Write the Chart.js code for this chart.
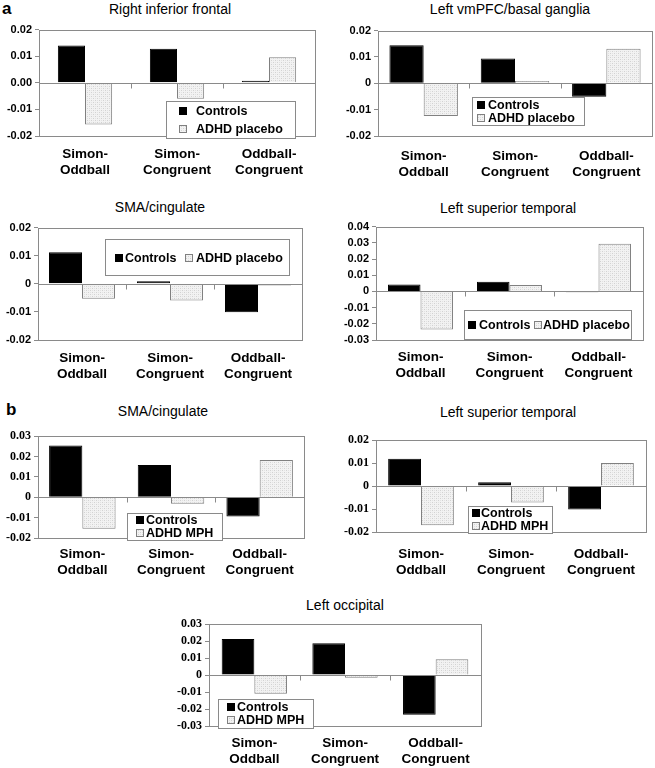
<!DOCTYPE html>
<html>
<head>
<meta charset="utf-8">
<script src="https://cdn.jsdelivr.net/npm/chart.js@4.4.0/dist/chart.umd.min.js"></script>
<style>
body { margin: 0; width: 655px; height: 768px; position: relative; overflow: hidden; background: #fff; font-family: "Liberation Sans", Arial, sans-serif; }
canvas { position: absolute; }
.ttl { position: absolute; font-size: 14px; transform: translate(-50%, -50%); white-space: nowrap; color: #000; }
.tag { position: absolute; font-size: 17px; font-weight: bold; transform: translate(0, -50%); }
</style>
</head>
<body>
<div class="tag" style="left:2px;top:9px">a</div>
<div class="tag" style="left:6px;top:410px">b</div>
<script>
// categories shared by every panel
var categories = [['Simon-', 'Oddball'], ['Simon-', 'Congruent'], ['Oddball-', 'Congruent']];

// a: Controls vs ADHD placebo
var rifControls = [0.0140, 0.0128, 0.0008];
var rifPlacebo = [-0.0157, -0.0060, 0.0096];
var vmpfcControls = [0.0144, 0.0094, -0.0051];
var vmpfcPlacebo = [-0.0124, 0.0009, 0.0131];
var smaControls = [0.0112, 0.0009, -0.0101];
var smaPlacebo = [-0.0053, -0.0059, -0.0006];
var lstControls = [0.0043, 0.0059, -0.0006];
var lstPlacebo = [-0.0235, 0.0039, 0.0294];

// b: Controls vs ADHD MPH
var smaMphControls = [0.0254, 0.0159, -0.0095];
var smaMph = [-0.0154, -0.0032, 0.0183];
var lstMphControls = [0.0119, 0.0017, -0.0102];
var lstMph = [-0.0171, -0.0071, 0.0101];
var occControls = [0.0213, 0.0188, -0.0233];
var occMph = [-0.0110, -0.0015, 0.0094];

// y ticks
var ticks2 = [-0.02, -0.01, 0, 0.01, 0.02];
var ticks2Labels = ['-0.02', '-0.01', '0', '0.01', '0.02'];
var ticks2LabelsDec = ['-0.02', '-0.01', '0.00', '0.01', '0.02'];
var ticks34 = [-0.03, -0.02, -0.01, 0, 0.01, 0.02, 0.03, 0.04];
var ticks34Labels = ['-0.03', '-0.02', '-0.01', '0', '0.01', '0.02', '0.03', '0.04'];
var ticks23 = [-0.02, -0.01, 0, 0.01, 0.02, 0.03];
var ticks23Labels = ['-0.02', '-0.01', '0', '0.01', '0.02', '0.03'];
var ticks33 = [-0.03, -0.02, -0.01, 0, 0.01, 0.02, 0.03];
var ticks33Labels = ['-0.03', '-0.02', '-0.01', '0', '0.01', '0.02', '0.03'];

var panels = [
  { title: 'Right inferior frontal', tx: 170, ty: 9, plot: [39, 28, 315, 136], a: rifControls, b: rifPlacebo, bName: 'ADHD placebo',
    ticks: ticks2, labels: ticks2LabelsDec, serif: false, cat: 0.59, lpad: 10,
    legend: { box: [127, 71, 129, 37], items: [[13, 30, 10], [13, 30, 28]] } },
  { title: 'Left vmPFC/basal ganglia', tx: 510, ty: 9, plot: [378, 29, 652, 136], a: vmpfcControls, b: vmpfcPlacebo, bName: 'ADHD placebo',
    ticks: ticks2, labels: ticks2Labels, serif: false, cat: 0.75, lpad: 12,
    legend: { box: [94, 66, 112, 28], items: [[5, 16, 8], [5, 16, 21]] } },
  { title: 'SMA/cingulate', tx: 160, ty: 207, plot: [38, 226, 302, 340], a: smaControls, b: smaPlacebo, bName: 'ADHD placebo',
    ticks: ticks2, labels: ticks2Labels, serif: false, cat: 0.75, lpad: 10,
    legend: { box: [67, 11, 184, 36], items: [[10, 20, 19], [80, 91, 19]] } },
  { title: 'Left superior temporal', tx: 508, ty: 208, plot: [376, 225, 643, 340], a: lstControls, b: lstPlacebo, bName: 'ADHD placebo',
    ticks: ticks34, labels: ticks34Labels, serif: false, cat: 0.73, lpad: 9,
    legend: { box: [88, 83, 167, 29], items: [[4, 15, 15], [70, 79, 15]] } },
  { title: 'SMA/cingulate', tx: 163, ty: 411, plot: [38, 434, 304, 538], a: smaMphControls, b: smaMph, bName: 'ADHD MPH',
    ticks: ticks23, labels: ticks23Labels, serif: true, cat: 0.75, lpad: 8,
    legend: { box: [89, 77, 95, 27], items: [[9, 19, 7], [9, 19, 20]] } },
  { title: 'Left superior temporal', tx: 508, ty: 412, plot: [376, 438, 646, 532], a: lstMphControls, b: lstMph, bName: 'ADHD MPH',
    ticks: ticks2, labels: ticks2Labels, serif: true, cat: 0.73, lpad: 14,
    legend: { box: [92, 66, 84, 27], items: [[4, 13, 7], [4, 13, 20]] } },
  { title: 'Left occipital', tx: 345, ty: 605, plot: [209, 622, 481, 726], a: occControls, b: occMph, bName: 'ADHD MPH',
    ticks: ticks33, labels: ticks33Labels, serif: true, cat: 0.72, lpad: 9,
    legend: { box: [9, 75, 95, 29], items: [[9, 19, 8], [9, 19, 21]] } }
];

var SANS = '"Liberation Sans", Arial, sans-serif';
var SERIF = '"Liberation Serif", "Times New Roman", serif';
var AXIS_W = 40, AXIS_H = 52, PAD_T = 8, PAD_R = 6;

// light dotted fill like the original's ADHD bars
function dotPattern(ctx) {
  var c = document.createElement('canvas');
  c.width = 4; c.height = 4;
  var g = c.getContext('2d');
  g.fillStyle = '#f2f2f2'; g.fillRect(0, 0, 4, 4);
  g.fillStyle = '#d2d2d2'; g.fillRect(0, 0, 1, 1); g.fillRect(2, 2, 1, 1);
  g.fillStyle = '#e2e2e2'; g.fillRect(2, 0, 1, 1); g.fillRect(0, 2, 1, 1);
  return ctx.createPattern(c, 'repeat');
}

// frame round the plot, zero line and the little category ticks on it
var framePlugin = {
  id: 'frame',
  afterDatasetsDraw: function(chart) {
    var ctx = chart.ctx, a = chart.chartArea;
    var y0 = Math.round(chart.scales.y.getPixelForValue(0)) + 0.5;
    var xs = chart.scales.x;
    ctx.save();
    ctx.strokeStyle = '#8a8a8a';
    ctx.lineWidth = 1;
    ctx.strokeRect(Math.round(a.left) + 0.5, Math.round(a.top) + 0.5, Math.round(a.width), Math.round(a.height));
    ctx.beginPath();
    ctx.moveTo(a.left, y0); ctx.lineTo(a.right, y0);
    for (var i = 0; i < categories.length - 1; i++) {
      var bx = Math.round((xs.getPixelForValue(i) + xs.getPixelForValue(i + 1)) / 2) + 0.5;
      ctx.moveTo(bx, y0); ctx.lineTo(bx, y0 + 5);
    }
    ctx.stroke();
    ctx.restore();
  }
};

// boxed legend placed inside the plot
var boxLegend = {
  id: 'boxLegend',
  afterDraw: function(chart, args, o) {
    if (!o.box) return;
    var ctx = chart.ctx, a = chart.chartArea;
    var x = Math.round(a.left + o.box[0]), y = Math.round(a.top + o.box[1]);
    ctx.save();
    ctx.fillStyle = '#fff';
    ctx.fillRect(x, y, o.box[2], o.box[3]);
    ctx.strokeStyle = '#8a8a8a';
    ctx.lineWidth = 1;
    ctx.strokeRect(x + 0.5, y + 0.5, o.box[2], o.box[3]);
    ctx.font = 'bold 12.5px ' + SANS;
    ctx.textBaseline = 'middle';
    o.items.forEach(function(it, i) {
      var ds = chart.data.datasets[i];
      var sx = x + it[0], cy = y + it[2];
      ctx.fillStyle = ds.backgroundColor;
      ctx.fillRect(sx, cy - 4, 8, 8);
      ctx.strokeStyle = ds.borderColor;
      ctx.strokeRect(sx + 0.5, cy - 3.5, 7, 7);
      ctx.fillStyle = '#000';
      ctx.fillText(ds.label, x + it[1], cy + 1);
    });
    ctx.restore();
  }
};

panels.forEach(function(p) {
  var l = p.plot[0], t = p.plot[1], r = p.plot[2], b = p.plot[3];

  var title = document.createElement('div');
  title.className = 'ttl';
  title.style.left = p.tx + 'px';
  title.style.top = p.ty + 'px';
  title.textContent = p.title;
  document.body.appendChild(title);

  var cv = document.createElement('canvas');
  cv.width = (r - l) + AXIS_W + PAD_R;
  cv.height = (b - t) + PAD_T + AXIS_H;
  cv.style.left = (l - AXIS_W) + 'px';
  cv.style.top = (t - PAD_T) + 'px';
  document.body.appendChild(cv);
  var ctx = cv.getContext('2d');

  new Chart(ctx, {
    type: 'bar',
    data: {
      labels: categories,
      datasets: [
        { label: 'Controls', data: p.a, backgroundColor: '#000', borderColor: '#000', borderWidth: 1 },
        { label: p.bName, data: p.b, backgroundColor: dotPattern(ctx), borderColor: '#808080', borderWidth: 1 }
      ]
    },
    options: {
      responsive: false,
      animation: false,
      devicePixelRatio: 1,
      categoryPercentage: p.cat,
      barPercentage: 1,
      layout: { padding: { top: PAD_T, right: PAD_R, left: 0, bottom: 0 } },
      plugins: {
        legend: { display: false },
        tooltip: { enabled: false },
        boxLegend: p.legend
      },
      scales: {
        x: {
          grid: { display: false, drawTicks: false },
          border: { display: false },
          ticks: { color: '#000', padding: p.lpad, maxRotation: 0, autoSkip: false,
                   font: { family: SANS, size: 13.5, weight: 'bold', lineHeight: '16px' } },
          afterFit: function(s) { s.height = AXIS_H; }
        },
        y: {
          min: p.ticks[0],
          max: p.ticks[p.ticks.length - 1],
          grid: { drawOnChartArea: false, tickLength: 4, color: '#8a8a8a' },
          border: { display: false },
          ticks: {
            color: '#000', padding: 3, autoSkip: false,
            font: p.serif ? { family: SERIF, size: 12, weight: 'bold' } : { family: SANS, size: 11, weight: 'bold' },
            callback: function(v, i) { return p.labels[i]; }
          },
          afterBuildTicks: function(s) { s.ticks = p.ticks.map(function(v) { return { value: v }; }); },
          afterFit: function(s) { s.width = AXIS_W; }
        }
      }
    },
    plugins: [framePlugin, boxLegend]
  });
});
</script>
</body>
</html>
